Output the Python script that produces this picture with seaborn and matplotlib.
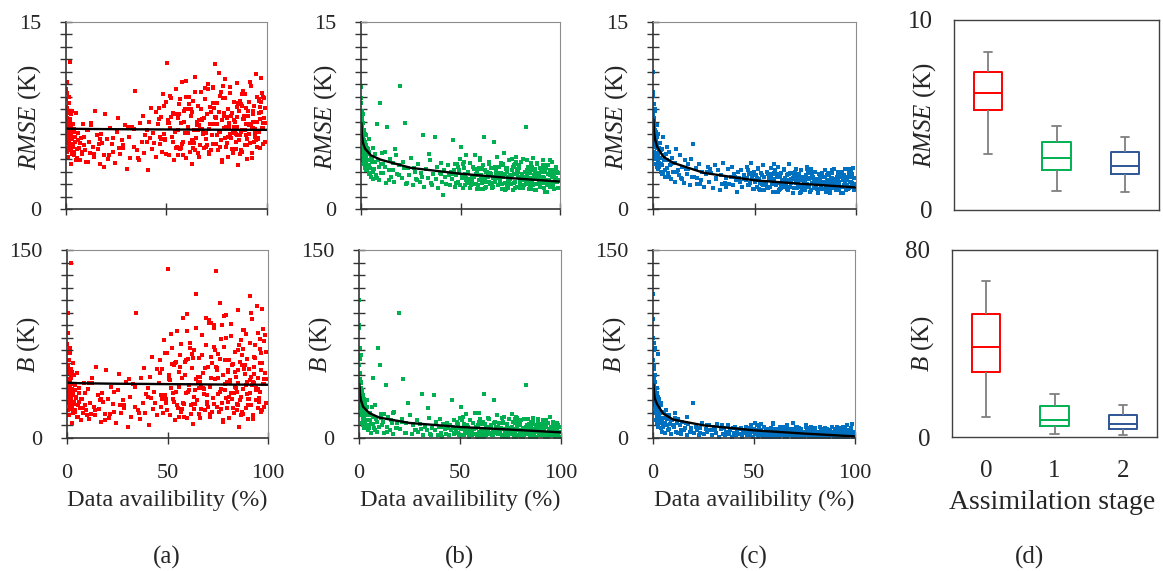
import numpy as np
import pandas as pd
import matplotlib
matplotlib.use("Agg")
import matplotlib.pyplot as plt
import seaborn as sns

# ---------------- data ----------------
availability = [
    0.1, 0.2, 0.2, 0.3, 0.4, 0.4, 0.5, 0.6, 0.7, 0.8,
    0.9, 1.0, 1.1, 1.2, 1.3, 1.4, 1.5, 1.6, 1.8, 1.9,
    2.0, 2.1, 2.3, 2.4, 2.5, 2.6, 2.7, 2.8, 2.9, 3.0,
    3.4, 3.8, 4.1, 4.5, 4.9, 5.3, 5.8, 6.2, 6.7, 7.1,
    7.6, 8.0, 8.5, 9.1, 9.6, 10.2, 10.8, 11.3, 11.9, 12.6,
    13.2, 13.9, 14.5, 15.2, 15.9, 16.7, 17.4, 18.1, 18.9, 19.6,
    20.4, 21.1, 21.9, 22.8, 23.5, 24.3, 25.2, 26.0, 26.9, 27.7,
    28.6, 29.4, 30.3, 31.1, 31.9, 32.8, 33.6, 34.5, 35.3, 36.2,
    37.0, 37.6, 38.3, 38.9, 39.5, 40.1, 40.7, 41.3, 41.8, 42.4,
    42.9, 43.5, 44.0, 44.6, 45.0, 12.2, 17.0, 21.5, 28.2, 34.0,
    45.6, 46.1, 46.7, 47.2, 47.8, 48.3, 48.9, 49.4, 49.9, 50.3,
    50.8, 51.3, 51.9, 52.4, 52.8, 53.3, 53.9, 54.4, 54.8, 55.3,
    55.9, 56.4, 56.8, 57.3, 57.9, 58.4, 58.8, 59.3, 59.8, 60.3,
    60.7, 61.2, 61.8, 62.3, 62.7, 63.2, 63.6, 64.1, 64.6, 65.0,
    65.5, 65.9, 66.4, 66.8, 67.3, 67.7, 68.2, 68.6, 69.1, 69.5,
    70.0, 70.4, 70.9, 71.3, 71.7, 72.2, 72.6, 73.1, 73.5, 73.9,
    74.4, 74.8, 75.2, 75.7, 76.1, 76.5, 77.0, 77.4, 77.8, 78.2,
    78.7, 79.1, 79.5, 79.9, 80.4, 80.8, 81.2, 81.6, 82.0, 82.5,
    82.9, 83.3, 83.7, 84.1, 84.5, 84.9, 85.3, 85.8, 86.2, 86.6,
    87.0, 87.4, 87.8, 88.2, 88.6, 89.0, 89.4, 89.8, 90.2, 90.6,
    91.0, 91.4, 91.8, 92.2, 92.6, 93.0, 93.4, 93.8, 94.2, 94.6,
    95.0, 95.4, 95.8, 96.2, 96.6, 97.0, 97.4, 97.8, 98.2, 98.6,
    51.1, 55.6, 59.0, 62.9, 66.1, 69.8, 73.3, 76.8, 80.1, 83.5,
    86.9, 90.4, 93.6, 96.9, 64.4, 71.5, 78.4, 85.1, 88.9, 92.4,
    0.1, 0.3, 0.3, 0.5, 0.6, 0.8, 0.9, 1.0, 1.2, 1.3,
    1.5, 1.7, 1.8, 2.0, 2.2, 2.4, 2.6, 2.8, 3.1, 3.3,
    3.6, 3.9, 4.2, 4.6, 5.0, 5.5, 6.0, 6.9, 7.8, 8.8,
    9.9, 11.0, 14.1, 16.3, 19.0, 23.2, 26.5, 30.8, 35.8, 40.4,
    46.4, 47.5, 48.6, 49.7, 50.6, 51.6, 52.6, 53.6, 54.6, 55.7,
    56.6, 57.6, 58.6, 59.6, 60.5, 61.5, 62.5, 63.4, 64.3, 65.2,
    66.2, 67.0, 67.9, 68.8, 69.7, 70.6, 71.4, 72.3, 73.2, 74.0,
    74.9, 75.9, 76.7, 77.6, 78.4, 79.3, 80.2, 81.0, 81.8, 82.7,
    83.6, 84.4, 85.2, 86.0, 86.8, 87.6, 88.4, 89.2, 90.0, 90.8,
    91.6, 92.4, 93.2, 94.0, 94.8, 95.6, 96.4, 97.2, 98.0, 98.8,
    99.2, 99.5, 47.0, 52.1, 57.0, 61.0, 65.7, 69.3, 72.9, 76.3,
    79.7, 83.1, 86.4, 89.6, 92.8, 95.2, 97.6, 49.1, 54.1, 58.1,
    62.1, 66.6, 70.2, 74.6, 78.0, 81.4, 84.7, 87.8, 91.2, 94.4,
    96.0, 98.4, 60.0, 63.8, 67.5, 71.1, 75.0, 77.2, 80.6, 82.3,
    84.0, 85.6, 87.2, 88.0, 89.9, 91.3, 93.1, 94.9, 96.5, 97.9,
    53.0, 56.0, 59.5, 63.0, 68.0, 73.7, 79.0, 85.0, 90.9, 95.9,
]

rmse_stage0 = [
    9.6, 8.8, 7.4, 10.2, 6.1, 5.3, 8.1, 7.0, 4.6, 6.6,
    5.9, 7.8, 6.3, 4.2, 5.5, 9.0, 6.8, 5.0, 7.2, 6.0,
    11.8, 5.6, 4.8, 6.5, 7.6, 3.6, 5.2, 6.2, 4.4, 7.9,
    5.2, 6.4, 4.6, 5.8, 7.7, 4.1, 5.5, 6.1, 4.9, 3.9,
    5.7, 4.4, 6.8, 5.1, 4.7, 6.3, 3.8, 5.4, 4.5, 6.9,
    5.0, 4.2, 7.9, 5.9, 4.8, 3.6, 6.0, 5.3, 4.3, 7.6,
    5.6, 4.0, 6.5, 5.2, 4.6, 3.7, 6.2, 7.3, 4.4, 5.5,
    4.9, 6.7, 3.2, 5.8, 4.1, 6.6, 5.0, 9.5, 4.7, 3.9,
    6.9, 5.4, 7.5, 4.5, 5.9, 6.3, 3.1, 7.0, 5.7, 8.1,
    4.8, 6.1, 5.3, 7.8, 4.2, 6.7, 5.6, 4.3, 5.1, 6.4,
    6.8, 8.1, 5.2, 7.4, 4.6, 9.2, 6.0, 5.5, 8.6, 11.7,
    7.1, 4.3, 6.5, 8.9, 5.8, 7.7, 3.9, 6.2, 9.6, 5.0,
    7.3, 8.4, 4.8, 6.9, 10.2, 5.4, 7.9, 6.1, 4.1, 8.0,
    6.6, 9.0, 5.3, 7.5, 3.6, 8.7, 6.3, 10.6, 5.7, 7.0,
    4.5, 8.3, 6.7, 5.1, 9.4, 7.2, 6.0, 4.9, 8.8, 5.6,
    7.6, 10.0, 6.4, 4.4, 8.2, 7.8, 5.9, 9.8, 6.8, 11.6,
    5.2, 7.4, 8.5, 4.7, 6.2, 9.1, 5.5, 7.1, 3.8, 8.9,
    6.5, 10.4, 5.0, 7.3, 8.0, 4.2, 6.9, 9.3, 5.7, 7.7,
    6.1, 4.8, 8.6, 7.0, 5.4, 10.1, 6.6, 3.5, 7.9, 5.9,
    8.4, 6.3, 4.6, 9.5, 7.2, 5.1, 6.8, 8.1, 4.0, 7.5,
    6.0, 5.3, 9.9, 6.7, 4.5, 7.6, 8.3, 5.8, 6.4, 10.8,
    7.0, 5.6, 8.8, 6.2, 4.9, 7.8, 6.5, 5.2, 9.0, 7.3,
    6.9, 4.3, 8.0, 5.5, 7.1, 6.1, 9.7, 5.0, 7.4, 6.6,
    6.2, 7.9, 5.4, 8.6, 4.7, 6.8, 7.5, 5.9, 9.2, 6.4,
    8.2, 6.9, 5.4, 7.3, 9.3, 6.0, 4.9, 7.7, 5.7, 6.4,
    8.5, 5.1, 6.7, 4.7, 7.1, 5.9, 6.3, 4.5, 5.6, 6.8,
    5.0, 4.3, 6.2, 5.4, 3.9, 4.8, 6.1, 5.3, 4.6, 5.8,
    3.8, 6.3, 4.4, 5.2, 3.4, 5.7, 4.9, 6.6, 4.1, 5.4,
    7.2, 5.6, 8.3, 4.4, 6.9, 9.1, 5.8, 7.6, 4.9, 6.3,
    8.8, 5.2, 7.0, 10.3, 6.1, 4.6, 7.8, 5.5, 9.4, 6.7,
    4.2, 8.0, 6.4, 7.3, 5.0, 9.6, 6.8, 4.7, 8.5, 7.4,
    5.9, 10.9, 6.2, 3.9, 7.7, 8.9, 5.3, 6.6, 9.8, 4.8,
    7.1, 6.0, 8.2, 5.5, 4.4, 9.2, 7.5, 6.3, 5.1, 8.6,
    6.8, 4.1, 7.9, 6.1, 9.0, 5.7, 7.2, 10.5, 6.5, 5.4,
    8.1, 6.9, 5.8, 7.4, 4.9, 8.4, 6.3, 9.7, 5.2, 7.8,
    6.6, 4.5, 8.7, 5.9, 7.0, 6.2, 9.3, 5.6, 7.6, 4.3,
    8.0, 6.4, 5.1, 7.3, 9.9, 6.0, 4.8, 8.3, 6.7, 5.5,
    7.7, 8.9, 6.1, 5.3, 7.1, 4.6, 6.8, 9.4, 5.8, 7.5,
    6.3, 8.5, 4.7, 7.2, 5.6, 10.2, 6.5, 5.0, 8.2, 6.9,
    5.4, 7.6, 9.0, 4.9, 6.2, 8.1, 5.7, 7.4, 6.0, 8.7,
]

b_stage0 = [
    75, 62, 44, 100, 35, 28, 58, 47, 22, 40,
    33, 55, 38, 18, 30, 68, 42, 25, 50, 36,
    140, 31, 24, 39, 53, 12, 27, 37, 20, 60,
    27, 38, 21, 32, 52, 17, 29, 36, 24, 14,
    31, 20, 44, 26, 22, 39, 15, 28, 19, 48,
    25, 18, 57, 34, 23, 13, 36, 29, 19, 54,
    31, 16, 41, 27, 21, 12, 38, 51, 20, 30,
    24, 45, 9, 33, 17, 43, 25, 100, 22, 15,
    48, 28, 56, 20, 35, 40, 10, 49, 32, 65,
    23, 37, 28, 55, 18, 44, 31, 19, 26, 41,
    44, 62, 25, 55, 20, 78, 34, 28, 68, 135,
    50, 18, 40, 72, 31, 58, 14, 37, 85, 24,
    53, 66, 21, 48, 96, 27, 61, 36, 16, 63,
    42, 76, 26, 56, 11, 70, 38, 115, 30, 49,
    19, 64, 45, 23, 82, 52, 35, 22, 74, 29,
    57, 92, 41, 17, 65, 60, 32, 88, 47, 133,
    25, 54, 67, 21, 37, 79, 28, 50, 13, 73,
    43, 98, 24, 53, 62, 16, 46, 81, 31, 59,
    36, 20, 69, 49, 27, 102, 44, 9, 61, 33,
    66, 39, 19, 86, 51, 24, 45, 63, 15, 55,
    113, 26, 95, 42, 18, 57, 64, 30, 40, 105,
    48, 29, 71, 37, 21, 60, 43, 25, 77, 52,
    46, 17, 62, 27, 49, 34, 90, 23, 54, 41,
    58, 31, 74, 22, 47, 92, 38, 26, 83, 45,
    68, 52, 33, 58, 84, 41, 29, 62, 37, 45,
    72, 30, 48, 23, 55, 38, 43, 21, 34, 50,
    29, 22, 42, 33, 17, 26, 40, 31, 24, 36,
    18, 44, 22, 30, 14, 37, 26, 47, 20, 33,
    52, 31, 68, 22, 47, 83, 36, 60, 26, 41,
    75, 28, 50, 99, 38, 19, 64, 33, 88, 45,
    16, 66, 40, 56, 27, 94, 48, 21, 73, 57,
    35, 108, 39, 14, 62, 80, 29, 44, 91, 24,
    53, 37, 70, 30, 18, 86, 58, 42, 26, 76,
    49, 15, 65, 38, 84, 32, 54, 103, 43, 28,
    69, 47, 34, 59, 23, 72, 40, 96, 27, 63,
    45, 20, 78, 35, 51, 39, 87, 31, 61, 17,
    67, 41, 25, 56, 97, 36, 22, 71, 46, 30,
    60, 82, 37, 27, 52, 19, 48, 90, 33, 58,
    40, 74, 21, 55, 31, 100, 44, 24, 68, 47,
    29, 57, 85, 23, 39, 70, 32, 54, 36, 79,
]

rmse_stage1 = [
    9.8, 8.5, 6.2, 7.4, 4.8, 5.6, 7.9, 3.9, 6.6, 5.2,
    4.5, 6.9, 5.8, 4.1, 6.3, 3.6, 5.0, 4.4, 6.0, 3.3,
    5.4, 4.7, 3.8, 5.9, 4.2, 3.1, 5.1, 4.6, 3.5, 4.9,
    4.8, 3.5, 5.6, 2.9, 4.2, 3.8, 2.4, 4.9, 3.2, 4.4,
    2.7, 6.8, 3.9, 2.3, 8.5, 3.6, 4.5, 2.9, 3.4, 2.1,
    6.6, 3.1, 4.0, 2.6, 3.7, 2.2, 4.3, 2.8, 3.5, 9.9,
    2.5, 3.8, 6.9, 2.0, 3.3, 2.7, 4.1, 1.9, 3.0, 2.4,
    3.6, 2.2, 2.9, 5.9, 1.8, 3.2, 2.5, 3.9, 2.1, 2.8,
    5.8, 2.4, 3.4, 1.7, 2.9, 3.7, 2.2, 1.1, 3.1, 2.6,
    2.0, 3.5, 2.7, 1.9, 3.0, 4.6, 4.8, 3.3, 2.3, 4.4,
    2.4, 5.5, 3.1, 1.8, 2.7, 3.6, 2.2, 2.9, 4.0, 5.0,
    2.5, 1.7, 3.3, 2.8, 4.3, 2.1, 3.0, 2.4, 3.7, 1.9,
    2.6, 3.4, 2.0, 4.3, 2.8, 1.6, 3.2, 2.3, 3.9, 2.7,
    2.1, 3.5, 5.8, 2.4, 1.8, 3.0, 2.6, 3.8, 2.0, 2.9,
    3.3, 1.7, 2.5, 5.4, 2.2, 3.1, 4.2, 1.9, 2.7, 3.4,
    2.3, 2.9, 1.6, 3.6, 4.5, 2.1, 2.8, 3.2, 1.8, 2.6,
    3.9, 2.4, 2.0, 3.1, 2.7, 1.5, 3.5, 2.2, 4.2, 2.9,
    1.8, 2.6, 3.3, 2.1, 3.8, 2.5, 1.7, 4.0, 2.3, 3.0,
    6.6, 2.8, 2.0, 3.4, 1.6, 2.5, 3.7, 2.2, 4.1, 1.9,
    2.7, 3.2, 1.5, 2.4, 3.6, 2.0, 2.9, 1.8, 3.3, 2.6,
    2.1, 3.9, 2.5, 1.7, 3.0, 2.3, 1.4, 3.5, 2.8, 2.0,
    3.1, 1.8, 2.6, 3.8, 2.2, 1.6, 2.9, 3.4, 2.4, 3.0,
    3.6, 2.3, 1.9, 3.0, 2.6, 2.0, 3.3, 2.8, 1.7, 3.9,
    2.4, 3.1, 1.9, 2.7, 2.2, 3.5, 1.8, 2.9, 2.5, 2.1,
    8.9, 7.1, 5.5, 6.4, 4.6, 7.6, 5.2, 4.0, 6.1, 4.8,
    3.7, 5.5, 4.3, 3.4, 5.0, 4.1, 3.6, 4.7, 3.2, 4.4,
    3.9, 2.8, 4.6, 3.3, 2.6, 4.1, 3.0, 3.8, 2.5, 3.4,
    2.9, 3.6, 2.3, 3.1, 2.7, 2.1, 3.3, 2.6, 1.9, 2.8,
    2.8, 2.1, 3.4, 1.9, 2.6, 3.8, 2.3, 3.0, 1.7, 2.5,
    3.2, 2.0, 2.7, 4.1, 2.4, 1.6, 3.1, 2.2, 3.6, 2.8,
    1.8, 3.3, 2.5, 2.9, 2.0, 3.7, 2.6, 1.5, 3.0, 2.3,
    2.7, 4.0, 2.1, 1.7, 3.2, 3.5, 2.4, 2.8, 1.9, 2.2,
    3.1, 2.5, 1.6, 3.4, 2.0, 2.9, 3.7, 2.3, 1.8, 3.0,
    2.6, 1.4, 3.3, 2.2, 3.9, 2.7, 2.0, 3.1, 2.5, 1.7,
    2.9, 2.3, 3.6, 1.9, 2.6, 3.2, 2.1, 2.8, 1.6, 3.4,
    2.4, 3.0, 2.0, 2.7, 3.5, 1.8, 2.5, 3.1, 2.2, 2.9,
    1.7, 3.3, 2.6, 2.1, 3.8, 2.4, 1.9, 2.8, 3.2, 2.3,
    3.0, 2.2, 1.6, 2.7, 3.4, 2.0, 2.5, 3.6, 1.8, 2.6,
    2.3, 3.1, 1.5, 2.9, 2.4, 3.5, 2.1, 2.7, 1.9, 3.2,
    2.5, 2.0, 3.3, 2.2, 2.8, 1.7, 3.0, 2.4, 2.6, 2.1,
]

b_stage1 = [
    110, 88, 58, 72, 35, 47, 63, 26, 52, 40,
    30, 44, 33, 18, 38, 12, 27, 22, 34, 10,
    29, 20, 14, 31, 17, 8, 25, 21, 11, 23,
    22, 9, 30, 6, 18, 14, 4, 25, 11, 48,
    8, 26, 15, 5, 72, 58, 19, 10, 13, 4,
    42, 9, 17, 6, 14, 3, 21, 8, 12, 100,
    7, 15, 47, 4, 12, 28, 18, 3, 10, 6,
    14, 5, 11, 35, 2, 9, 6, 16, 3, 8,
    34, 6, 13, 2, 9, 15, 4, 1, 11, 7,
    3, 12, 8, 2, 10, 19, 20, 13, 6, 24,
    6, 30, 9, 3, 7, 12, 4, 8, 16, 25,
    7, 2, 11, 8, 19, 4, 9, 6, 14, 3,
    7, 12, 3, 20, 8, 1, 10, 5, 15, 7,
    4, 13, 35, 6, 2, 9, 7, 16, 3, 8,
    10, 2, 6, 30, 4, 9, 18, 3, 7, 12,
    5, 8, 1, 13, 17, 4, 7, 10, 2, 6,
    15, 5, 3, 9, 7, 1, 12, 4, 17, 8,
    2, 6, 11, 3, 14, 6, 1, 15, 4, 9,
    42, 7, 3, 11, 1, 6, 13, 4, 16, 2,
    7, 10, 1, 5, 12, 3, 8, 2, 11, 6,
    3, 14, 6, 1, 9, 4, 1, 12, 7, 2,
    9, 2, 6, 13, 4, 1, 8, 11, 5, 10,
    14, 5, 2, 9, 6, 3, 11, 7, 1, 15,
    5, 9, 2, 7, 4, 12, 2, 8, 6, 3,
    90, 64, 40, 52, 28, 66, 37, 24, 45, 31,
    19, 36, 26, 15, 32, 20, 16, 27, 13, 24,
    18, 10, 25, 14, 8, 20, 11, 17, 6, 13,
    9, 16, 5, 12, 8, 4, 11, 7, 2, 9,
    8, 4, 13, 2, 7, 17, 5, 10, 1, 6,
    12, 3, 9, 20, 6, 1, 11, 4, 15, 8,
    2, 12, 6, 9, 3, 16, 7, 1, 10, 5,
    8, 19, 3, 1, 11, 14, 5, 8, 2, 4,
    10, 6, 1, 13, 3, 9, 15, 4, 2, 10,
    7, 1, 12, 4, 17, 7, 2, 10, 6, 1,
    9, 5, 14, 2, 7, 11, 3, 8, 1, 13,
    5, 10, 2, 7, 14, 2, 6, 11, 4, 9,
    1, 12, 7, 3, 16, 5, 2, 8, 11, 4,
    10, 3, 1, 7, 13, 2, 6, 15, 1, 7,
    4, 11, 1, 9, 5, 14, 3, 7, 2, 12,
    6, 2, 13, 4, 8, 1, 10, 5, 7, 3,
]

rmse_stage2 = [
    11.0, 9.1, 7.6, 8.4, 6.0, 5.2, 7.0, 4.6, 6.5, 5.6,
    4.3, 7.9, 5.1, 4.0, 6.2, 3.6, 5.4, 4.5, 6.7, 3.4,
    5.8, 4.9, 3.9, 6.0, 4.4, 3.2, 5.3, 4.1, 3.7, 4.8,
    5.3, 3.6, 4.7, 2.8, 5.8, 3.9, 2.6, 4.4, 3.3, 5.0,
    2.9, 4.6, 3.5, 2.4, 4.1, 3.7, 2.2, 4.8, 3.0, 2.7,
    4.3, 2.5, 3.4, 2.1, 3.9, 2.8, 3.2, 1.9, 4.0, 5.2,
    2.6, 3.3, 2.0, 3.6, 2.3, 3.0, 1.8, 2.8, 3.4, 2.2,
    2.9, 1.7, 3.5, 2.4, 3.1, 1.5, 2.7, 3.7, 2.1, 2.5,
    3.2, 2.0, 2.6, 3.4, 1.9, 2.8, 2.3, 1.4, 3.0, 2.5,
    2.2, 3.1, 1.8, 2.7, 2.4, 3.1, 3.6, 2.5, 3.2, 2.0,
    2.3, 3.4, 1.9, 2.8, 2.1, 3.7, 2.5, 1.6, 3.0, 2.2,
    2.7, 1.8, 3.2, 2.4, 1.5, 2.9, 2.0, 3.5, 2.6, 1.9,
    2.2, 3.0, 1.7, 2.5, 3.3, 2.0, 2.8, 1.4, 2.4, 3.1,
    1.9, 2.6, 3.4, 2.1, 1.6, 2.9, 2.3, 1.8, 3.2, 2.5,
    2.0, 2.7, 1.5, 3.6, 2.2, 1.8, 2.9, 2.4, 1.3, 2.6,
    3.0, 2.1, 1.7, 2.5, 2.8, 1.9, 2.3, 3.1, 1.6, 2.4,
    2.2, 1.5, 2.7, 2.0, 3.2, 1.8, 2.5, 1.4, 2.9, 2.1,
    2.6, 1.7, 2.3, 3.0, 1.9, 2.4, 1.3, 2.8, 2.0, 2.5,
    1.8, 2.9, 2.2, 1.6, 2.6, 3.1, 1.9, 2.3, 1.5, 2.7,
    2.1, 1.4, 2.5, 2.9, 1.7, 2.2, 3.2, 1.9, 2.4, 1.6,
    2.8, 2.0, 1.5, 2.6, 1.8, 3.0, 2.3, 1.3, 2.7, 2.1,
    3.2, 1.9, 2.4, 1.6, 2.9, 2.2, 3.1, 1.8, 2.6, 3.3,
    2.5, 2.0, 2.8, 1.7, 2.3, 2.7, 1.9, 2.4, 2.1, 1.6,
    2.2, 1.7, 2.6, 3.2, 2.0, 1.8, 2.5, 1.9, 2.3, 2.8,
    9.4, 7.3, 5.9, 6.8, 5.0, 8.0, 5.5, 4.3, 6.3, 5.1,
    4.0, 5.7, 4.5, 3.6, 5.2, 4.2, 3.8, 4.9, 3.4, 4.6,
    4.1, 3.0, 4.8, 3.5, 2.8, 4.3, 3.1, 3.9, 2.6, 3.6,
    3.0, 3.7, 2.4, 3.2, 2.6, 2.0, 3.0, 2.5, 1.8, 2.6,
    2.5, 1.9, 2.9, 1.6, 2.3, 3.3, 2.1, 2.7, 1.5, 2.2,
    2.8, 1.8, 2.4, 3.6, 2.0, 1.4, 2.6, 1.9, 3.1, 2.3,
    1.6, 2.8, 2.1, 2.5, 1.7, 3.2, 2.2, 1.3, 2.6, 1.9,
    2.4, 3.4, 1.8, 1.5, 2.7, 3.0, 2.0, 2.4, 1.6, 1.9,
    2.6, 2.1, 1.4, 2.9, 1.7, 2.5, 3.1, 2.0, 1.5, 2.6,
    2.2, 1.3, 2.8, 1.9, 3.2, 2.3, 1.7, 2.7, 2.1, 1.5,
    2.5, 2.0, 3.1, 1.6, 2.3, 2.8, 1.8, 2.4, 1.4, 2.9,
    2.1, 2.6, 1.7, 2.3, 3.0, 1.5, 2.2, 2.7, 1.9, 2.5,
    1.5, 2.8, 2.3, 1.8, 3.2, 2.0, 1.6, 2.4, 2.8, 2.0,
    2.6, 1.9, 1.4, 2.3, 2.9, 1.7, 2.1, 3.1, 1.6, 2.2,
    2.0, 2.7, 1.3, 2.5, 2.1, 3.0, 1.8, 2.3, 1.7, 2.8,
    2.2, 1.8, 2.9, 1.9, 2.4, 1.5, 2.6, 2.1, 2.3, 1.8,
]

b_stage2 = [
    115, 80, 62, 76, 42, 35, 55, 26, 48, 38,
    28, 45, 32, 20, 36, 14, 30, 24, 40, 12,
    27, 19, 15, 33, 22, 9, 67, 18, 13, 25,
    20, 8, 28, 5, 16, 12, 4, 22, 10, 15,
    6, 18, 11, 3, 14, 9, 20, 5, 12, 4,
    10, 3, 13, 6, 8, 2, 11, 5, 7, 28,
    4, 9, 6, 2, 8, 12, 3, 7, 5, 10,
    6, 2, 9, 4, 11, 1, 7, 3, 8, 5,
    10, 3, 6, 1, 8, 4, 9, 2, 5, 7,
    3, 8, 1, 6, 4, 15, 17, 9, 6, 10,
    4, 9, 2, 6, 3, 10, 5, 1, 7, 12,
    3, 6, 1, 8, 4, 11, 2, 5, 9, 3,
    6, 2, 7, 4, 1, 8, 3, 12, 5, 2,
    7, 3, 5, 1, 9, 4, 2, 6, 3, 8,
    1, 5, 10, 3, 6, 2, 4, 7, 1, 12,
    4, 2, 6, 3, 1, 8, 5, 2, 7, 3,
    5, 1, 4, 9, 2, 6, 3, 1, 5, 8,
    2, 6, 3, 1, 7, 4, 2, 5, 1, 9,
    3, 7, 1, 5, 2, 4, 8, 1, 6, 3,
    1, 4, 6, 2, 9, 3, 1, 5, 7, 2,
    4, 1, 8, 3, 5, 2, 6, 1, 9, 3,
    7, 2, 5, 10, 1, 4, 3, 8, 2, 11,
    5, 2, 7, 3, 1, 6, 4, 2, 8, 5,
    3, 7, 1, 4, 2, 9, 1, 6, 3, 2,
    95, 70, 45, 58, 33, 72, 40, 28, 50, 35,
    22, 40, 30, 17, 36, 23, 18, 31, 14, 27,
    20, 12, 26, 15, 9, 21, 12, 18, 7, 14,
    10, 16, 6, 12, 8, 4, 10, 6, 2, 8,
    5, 2, 8, 1, 4, 10, 3, 6, 1, 4,
    7, 2, 5, 11, 3, 1, 6, 2, 9, 4,
    1, 7, 3, 5, 2, 9, 4, 1, 6, 3,
    4, 10, 2, 1, 6, 8, 3, 5, 1, 2,
    6, 3, 1, 7, 2, 5, 9, 2, 1, 5,
    4, 1, 7, 2, 9, 3, 1, 6, 3, 1,
    5, 2, 8, 1, 4, 6, 2, 4, 1, 7,
    3, 5, 1, 4, 8, 1, 3, 6, 2, 5,
    1, 6, 4, 2, 9, 3, 1, 4, 6, 2,
    5, 2, 1, 4, 7, 1, 3, 8, 1, 4,
    2, 6, 1, 5, 3, 9, 2, 4, 1, 7,
    3, 1, 7, 2, 5, 1, 6, 3, 4, 2,
]

# fitted trend lines
fit_x = [0.2, 0.5, 1, 2, 5, 10, 25, 50, 75, 100]
rmse_fit0 = [6.45, 6.45, 6.44, 6.44, 6.43, 6.42, 6.40, 6.38, 6.36, 6.35]
b_fit0 = [44.3, 44.2, 44.1, 44.0, 43.8, 43.6, 43.3, 43.0, 42.7, 42.5]
rmse_fit1 = [6.9, 5.9, 5.3, 4.85, 4.3, 3.95, 3.3, 2.83, 2.48, 2.2]
b_fit1 = [43, 35, 30, 25, 20, 16.3, 12, 8.8, 6.7, 4.5]
rmse_fit2 = [7.2, 6.2, 5.6, 5.0, 4.2, 3.7, 2.9, 2.3, 2.0, 1.73]
b_fit2 = [43, 36, 31, 27, 19.5, 14.7, 10.1, 6.1, 3.5, 1.3]

# box plot five-number summaries (min, q1, median, q3, max) per assimilation stage
stages = ["0", "1", "2"]
rmse_box = {"0": [2.93, 5.26, 6.17, 7.28, 8.33],
            "1": [1.02, 2.10, 2.72, 3.60, 4.44],
            "2": [0.93, 1.88, 2.33, 3.07, 3.82]}
b_box = {"0": [8.5, 27.6, 38.4, 52.7, 66.9],
         "1": [1.3, 4.6, 7.4, 13.1, 18.5],
         "2": [0.85, 3.4, 5.4, 9.5, 13.5]}

panel_letters = ["(a)", "(b)", "(c)", "(d)"]
x_ticks = [0, 50, 100]
x_ticklabels = ["0", "50", "100"]

# ---------------- style ----------------
sns.set_theme(style="white")
plt.rcParams["font.family"] = ["Liberation Serif", "DejaVu Serif"]
plt.rcParams["mathtext.fontset"] = "custom"
plt.rcParams["mathtext.it"] = "Liberation Serif:italic"
plt.rcParams["mathtext.rm"] = "Liberation Serif"

W, H = 1163, 571
fig = plt.figure(figsize=(W / 100, H / 100), dpi=100)


def rect(x0, y0, x1, y1):
    return [x0 / W, (H - y1) / H, (x1 - x0) / W, (y1 - y0) / H]


scatter_colors = ["#FF0000", "#00B050", "#0070C0"]
box_colors = ["#FF0000", "#00B050", "#2F5597"]
RMSE_LABEL = "$\\mathit{RMSE}$ (K)"
B_LABEL = "$\\mathit{B}$ (K)"


def style_scatter_axes(ax, ymax, ystep, bottom_row):
    ax.set_xlim(0, 100)
    ax.set_ylim(0, ymax)
    yt = list(range(0, ymax + 1, ystep))
    ax.set_yticks(yt)
    ax.set_yticklabels([str(v) if v in (0, ymax) else "" for v in yt])
    ax.set_xticks(x_ticks)
    ax.set_xticklabels(x_ticklabels if bottom_row else [])
    ax.tick_params(axis="y", direction="inout", length=8, width=1.0,
                   color="#333333", pad=14, labelsize=16, left=True)
    ax.tick_params(axis="x", direction="inout", length=8, width=1.0,
                   color="#333333", pad=14.5, labelsize=16, bottom=True)
    for s in ("left", "bottom"):
        ax.spines[s].set_color("#333333")
        ax.spines[s].set_linewidth(1.2)
    for s in ("top", "right"):
        ax.spines[s].set_color("#8c8c8c")
        ax.spines[s].set_linewidth(0.8)
    ax.grid(False)


scatter_rects_top = [(66, 22, 267, 209), (361, 22, 560, 209), (653, 22, 856, 209)]
scatter_rects_bot = [(67, 250, 268, 438), (359, 250, 561, 438), (653, 250, 855, 438)]
rmse_series = [rmse_stage0, rmse_stage1, rmse_stage2]
b_series = [b_stage0, b_stage1, b_stage2]
rmse_fits = [rmse_fit0, rmse_fit1, rmse_fit2]
b_fits = [b_fit0, b_fit1, b_fit2]

for i in range(3):
    # RMSE row
    ax = fig.add_axes(rect(*scatter_rects_top[i]))
    sns.scatterplot(x=availability, y=rmse_series[i], color=scatter_colors[i],
                    marker="s", s=6, linewidth=0, ax=ax)
    sns.lineplot(x=fit_x, y=rmse_fits[i], color="black", linewidth=1.7, ax=ax)
    style_scatter_axes(ax, 15, 1, False)
    ax.set_ylabel(RMSE_LABEL, fontsize=18, va="center")
    ax.yaxis.set_label_coords(-0.18, 0.49)
    ax.set_xlabel("")

    # B row
    ax = fig.add_axes(rect(*scatter_rects_bot[i]))
    sns.scatterplot(x=availability, y=b_series[i], color=scatter_colors[i],
                    marker="s", s=6, linewidth=0, ax=ax)
    sns.lineplot(x=fit_x, y=b_fits[i], color="black", linewidth=1.7, ax=ax)
    style_scatter_axes(ax, 150, 10, True)
    ax.set_ylabel(B_LABEL, fontsize=18, va="center")
    ax.yaxis.set_label_coords(-0.19, 0.5)
    ax.set_xlabel("Data availibility (%)", fontsize=17.5, va="center")
    ax.xaxis.set_label_coords(0.5, -0.33)


def box_frame(summary):
    rows = []
    for st in stages:
        for v in summary[st]:
            rows.append({"stage": st, "value": v})
    return pd.DataFrame(rows)


def style_box_axes(ax, ymax, bottom_row):
    ax.set_ylim(0, ymax)
    ax.set_xlim(-0.5, 2.5)
    ax.set_yticks([0, ymax])
    ax.set_yticklabels(["0", str(ymax)])
    ax.set_xticks([0, 1, 2])
    ax.set_xticklabels(stages if bottom_row else [])
    ax.tick_params(axis="both", length=0, labelsize=18)
    ax.tick_params(axis="y", pad=15.5)
    ax.tick_params(axis="x", pad=16.5)
    for s in ax.spines.values():
        s.set_color("#404040")
        s.set_linewidth(1.0)
    ax.grid(False)


for row, (summary, ymax, label, r) in enumerate([
        (rmse_box, 10, RMSE_LABEL, (954, 20, 1159, 210)),
        (b_box, 80, B_LABEL, (952, 250, 1157, 437))]):
    ax = fig.add_axes(rect(*r))
    df = box_frame(summary)
    sns.boxplot(data=df, x="stage", y="value", hue="stage", order=stages,
                hue_order=stages, palette=box_colors, fill=False, whis=(0, 100),
                width=0.41, linewidth=1.4, legend=False, ax=ax,
                whiskerprops={"color": "#7f7f7f", "linewidth": 1.3},
                capprops={"color": "#7f7f7f", "linewidth": 1.3},
                capwidths=0.12)
    style_box_axes(ax, ymax, row == 1)
    ax.set_ylabel(label, fontsize=18, va="center")
    ax.yaxis.set_label_coords(-0.145, 0.5)
    if row == 1:
        ax.set_xlabel("Assimilation stage", fontsize=20, va="center")
        ax.xaxis.set_label_coords(0.49, -0.35)
    else:
        ax.set_xlabel("")

letter_x = [167, 460, 754, 1030]
for lx, txt in zip(letter_x, panel_letters):
    fig.text(lx / W, 1 - 557 / H, txt, ha="center", va="center", fontsize=18)

fig.savefig("out.png", dpi=100)
